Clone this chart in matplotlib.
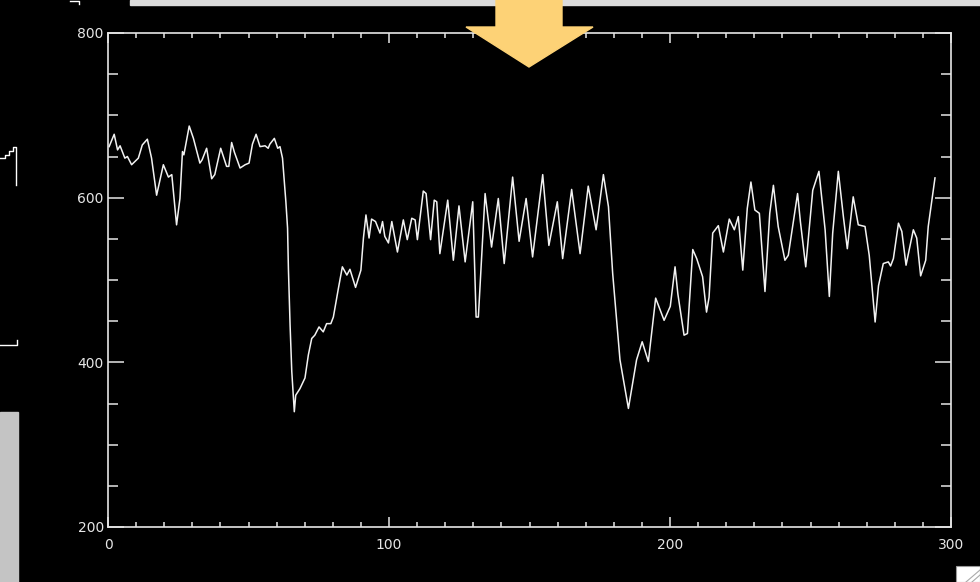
import matplotlib
matplotlib.use("Agg")
import matplotlib.pyplot as plt
from matplotlib.patches import Rectangle, Polygon
from matplotlib.ticker import MultipleLocator

# Data

xs = [0.4, 2.2, 3.4, 4.3, 6.0, 6.9, 8.4, 10.8, 12.2, 14.0, 15.5, 17.3, 19.7, 21.5,
      22.7, 24.4, 25.6, 26.5, 27.0, 28.9, 30.4, 32.7, 33.5, 35.1, 36.9, 38.0, 40.1,
      42.2, 43.0, 44.0, 45.0, 47.0, 48.8, 50.2, 51.4, 52.7, 54.1, 55.9, 57.0, 57.6,
      59.2, 60.4, 61.2, 62.1, 63.3, 63.9, 64.2, 64.8, 65.4, 66.3, 66.8, 68.3, 70.1,
      71.3, 72.5, 73.6, 75.1, 76.6, 77.8, 79.3, 80.2, 82.0, 83.4, 85.0, 86.1, 88.1,
      90.0, 90.9, 91.8, 92.9, 93.8, 95.2, 96.8, 97.7, 98.5, 99.8, 101.0, 103.0,
      105.1, 106.5, 108.1, 109.3, 110.1, 112.2, 113.2, 114.8, 116.1, 117.0, 118.1,
      120.9, 122.9, 124.9, 127.1, 129.8, 131.0, 131.8, 134.2, 136.5, 138.9, 141.0,
      144.0, 146.3, 148.8, 151.1, 154.7, 156.9, 159.9, 161.8, 165.0, 168.0, 170.9,
      173.7, 176.3, 178.1, 179.6, 182.2, 185.2, 188.1, 190.1, 192.3, 194.9, 197.9,
      200.1, 201.8, 202.8, 205.0, 206.2, 208.1, 209.5, 211.6, 213.0, 213.9, 215.2,
      217.2, 219.0, 221.1, 222.9, 224.3, 225.9, 227.5, 228.8, 230.2, 231.8, 233.8,
      235.5, 236.8, 238.5, 240.9, 242.1, 245.4, 246.4, 248.3, 250.8, 253.0, 255.2,
      256.7, 257.9, 259.9, 261.7, 263.1, 265.2, 267.0, 269.4, 270.9, 273.0, 274.2,
      275.9, 277.7, 278.5, 279.5, 281.3, 282.5, 284.0, 286.6, 287.8, 289.2, 291.0,
      291.9, 294.3]
ys = [662, 677, 658, 663, 648, 650, 640, 648, 664, 671, 648, 603, 640, 625,
      628, 567, 599, 656, 652, 687, 672, 642, 646, 660, 623, 628, 660,
      638, 638, 667, 655, 636, 640, 642, 665, 677, 662, 663, 660, 665,
      672, 660, 662, 648, 595, 563, 514, 445, 389, 340, 360, 368, 381,
      409, 429, 433, 443, 437, 447, 447, 455, 490, 516, 506, 513, 491,
      512, 551, 579, 551, 574, 571, 557, 571, 553, 545, 571, 534,
      573, 549, 575, 573, 549, 608, 605, 549, 597, 595, 532,
      597, 524, 590, 522, 595, 455, 455, 605, 540, 599, 520,
      625, 547, 599, 528, 628, 542, 595, 526, 610, 532, 614,
      561, 628, 589, 508, 403, 344, 403, 425, 401, 478, 451,
      468, 516, 483, 433, 435, 537, 526, 504, 461, 479, 557,
      566, 534, 574, 561, 577, 512, 587, 619, 585, 581, 486,
      581, 615, 565, 524, 530, 605, 571, 516, 609, 632, 561,
      480, 557, 632, 577, 538, 601, 567, 565, 530, 449, 493,
      520, 522, 517, 526, 569, 559, 518, 561, 551, 505, 524,
      565, 624]

x_ticks = [0, 100, 200, 300]
y_ticks = [200, 400, 600, 800]

# Figure

fig = plt.figure(figsize=(9.8, 5.82), dpi=100, facecolor="black")
ax = fig.add_axes([108 / 980, 55 / 582, 843 / 980, 494 / 582], facecolor="black")

ax.plot(xs, ys, color="#f2f2f2", linewidth=1.1)

ax.set_xlim(0, 300)
ax.set_ylim(200, 800)
ax.set_xticks(x_ticks)
ax.set_yticks(y_ticks)
ax.xaxis.set_minor_locator(MultipleLocator(10))
ax.yaxis.set_minor_locator(MultipleLocator(50))

axis_col = "#e6e6e6"
for sp in ax.spines.values():
    sp.set_color(axis_col)
    sp.set_linewidth(1.2)

ax.tick_params(axis="x", which="major", direction="in", top=True, length=7.5,
               width=1.1, color=axis_col, labelcolor=axis_col, labelsize=10, pad=8)
ax.tick_params(axis="x", which="minor", direction="in", top=True, length=3.8,
               width=1.1, color=axis_col)
ax.tick_params(axis="y", which="major", direction="in", right=True, length=11.5,
               width=1.1, color=axis_col, labelcolor=axis_col, labelsize=10, pad=3)
ax.tick_params(axis="y", which="minor", direction="in", right=True, length=7,
               width=1.1, color=axis_col)

# Screenshot surroundings (window bits and the highlight arrow)

over = fig.add_axes([0, 0, 1, 1], facecolor="none", zorder=5)
over.set_xlim(0, 980)
over.set_ylim(582, 0)
over.axis("off")

over.add_patch(Rectangle((130, 0), 850, 5, color="#dcdcdc"))
over.add_patch(Rectangle((0, 412), 18, 170, color="#c4c4c4"))
over.add_patch(Polygon([(496, 0), (562, 0), (562, 27), (593, 27), (529, 67),
                        (466, 27), (496, 27)], closed=True, color="#fdd276"))
over.plot([70, 79, 79], [1, 1, 4], color="white", linewidth=1)
over.plot([0, 5, 5, 9, 9, 13, 13, 16, 16], [158, 158, 155, 155, 151, 151, 147, 147, 185],
          color="white", linewidth=1)
over.plot([0, 17, 17], [345, 345, 340], color="white", linewidth=1)
over.add_patch(Rectangle((956, 566), 24, 16, facecolor="white", edgecolor="#999999",
                         linewidth=0.8))
over.plot([966, 980], [582, 570], color="#aaaaaa", linewidth=0.8)
over.plot([972, 980], [582, 575], color="#aaaaaa", linewidth=0.8)

fig.savefig("out.png", dpi=100, facecolor="black")
